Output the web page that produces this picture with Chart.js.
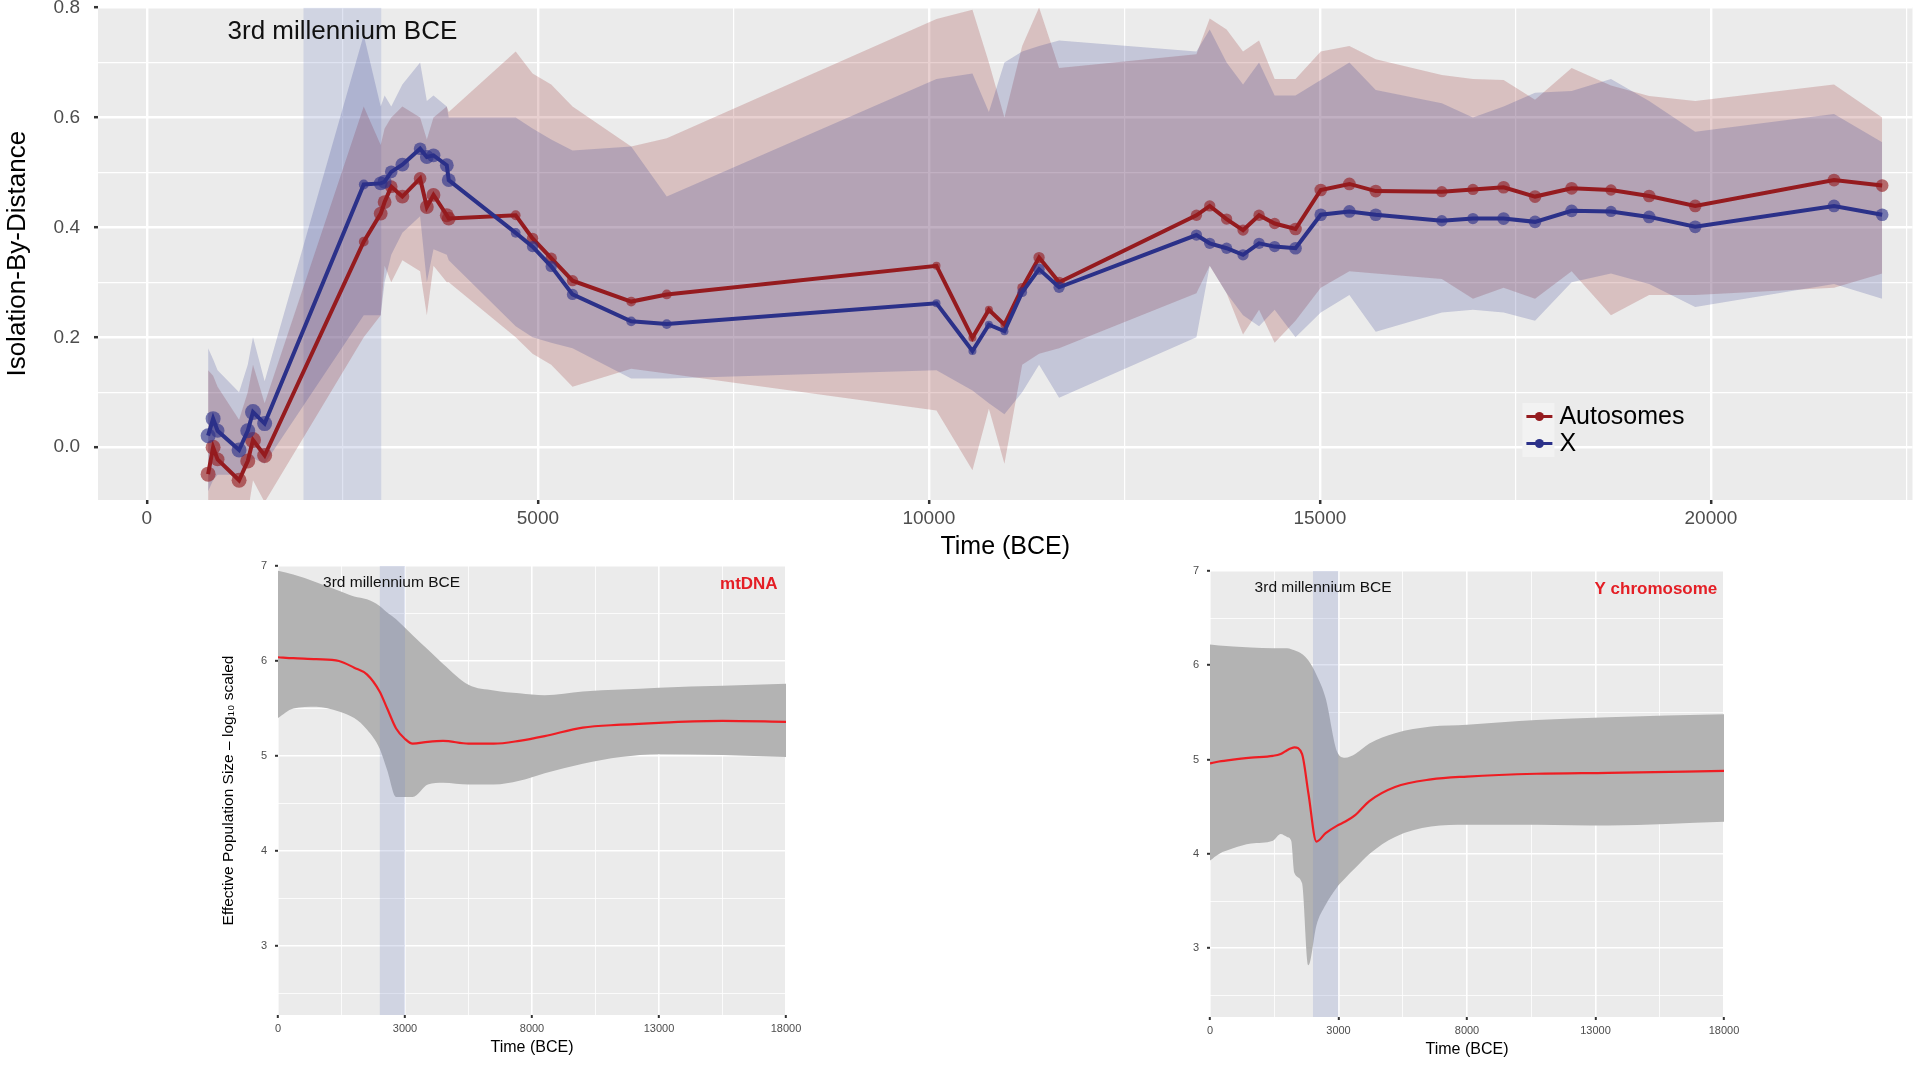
<!DOCTYPE html>
<html>
<head>
<meta charset="utf-8">
<script src="https://cdn.jsdelivr.net/npm/chart.js@4.4.1/dist/chart.umd.min.js"></script>
<style>
  body { margin: 0; background: #fff; width: 1920px; height: 1080px; position: relative; overflow: hidden; }
  canvas { position: absolute; }
</style>
</head>
<body>
<canvas id="ibd" width="1920" height="570" style="left:0;top:0"></canvas>
<canvas id="mtdna" width="650" height="525" style="left:180px;top:555px"></canvas>
<canvas id="ychr" width="600" height="525" style="left:1160px;top:555px"></canvas>
<script>
// ---- isolation by distance (top panel), time in years BCE ----
const ibdTime = [783, 847, 904, 1179, 1290, 1357, 1506,
  2773, 2990, 3040, 3125, 3267, 3494, 3580, 3665, 3835, 3860,
  4716, 4932, 5170, 5443, 6193, 6648,
  10097, 10557, 10767, 10966, 11193, 11409, 11665,
  13421, 13591, 13807, 14017, 14222, 14421, 14688,
  15011, 15377, 15714, 16559, 16957, 17349, 17751, 18219, 18722, 19210, 19799, 21574, 22190];
const autosomeIbd = [-0.049, 0.000, -0.022, -0.060, -0.025, 0.013, -0.015,
  0.374, 0.425, 0.446, 0.474, 0.456, 0.489, 0.437, 0.459, 0.422, 0.416,
  0.422, 0.380, 0.344, 0.303, 0.265, 0.278,
  0.330, 0.199, 0.250, 0.223, 0.290, 0.345, 0.300,
  0.422, 0.439, 0.415, 0.395, 0.422, 0.407, 0.397,
  0.468, 0.479, 0.466, 0.465, 0.469, 0.473, 0.456, 0.471, 0.468, 0.457, 0.439, 0.486, 0.476];
const autosomeHigh = [0.14, 0.13, 0.11, 0.05, 0.10, 0.15, 0.08,
  0.62, 0.55, 0.58, 0.60, 0.62, 0.60, 0.56, 0.60, 0.62, 0.61,
  0.72, 0.68, 0.66, 0.62, 0.547, 0.562,
  0.779, 0.796, 0.70, 0.60, 0.73, 0.80, 0.69,
  0.715, 0.78, 0.76, 0.72, 0.74, 0.67, 0.67,
  0.72, 0.73, 0.706, 0.677, 0.67, 0.668, 0.632, 0.69, 0.658, 0.639, 0.63, 0.66, 0.60];
const autosomeLow = [-0.13, -0.10, -0.12, -0.14, -0.12, -0.06, -0.10,
  0.20, 0.24, 0.33, 0.30, 0.34, 0.32, 0.24, 0.33, 0.30, 0.30,
  0.20, 0.17, 0.15, 0.11, 0.143, 0.134,
  0.067, -0.042, 0.07, -0.03, 0.15, 0.17, 0.18,
  0.28, 0.33, 0.28, 0.205, 0.25, 0.19, 0.23,
  0.29, 0.32, 0.316, 0.306, 0.27, 0.29, 0.27, 0.32, 0.24, 0.277, 0.277, 0.29, 0.316];
const xIbd = [0.021, 0.052, 0.030, -0.005, 0.030, 0.064, 0.043,
  0.478, 0.480, 0.483, 0.501, 0.514, 0.543, 0.528, 0.531, 0.513, 0.486,
  0.390, 0.365, 0.329, 0.278, 0.229, 0.224,
  0.262, 0.175, 0.223, 0.211, 0.282, 0.324, 0.291,
  0.386, 0.371, 0.362, 0.350, 0.371, 0.365, 0.362,
  0.423, 0.429, 0.423, 0.412, 0.416, 0.416, 0.410, 0.430, 0.429, 0.419, 0.401, 0.439, 0.423];
const xHigh = [0.18, 0.16, 0.14, 0.10, 0.15, 0.20, 0.12,
  0.75, 0.62, 0.64, 0.62, 0.66, 0.70, 0.63, 0.64, 0.62, 0.60,
  0.60, 0.58, 0.56, 0.54, 0.547, 0.456,
  0.67, 0.68, 0.61, 0.70, 0.72, 0.73, 0.74,
  0.72, 0.76, 0.70, 0.66, 0.70, 0.64, 0.64,
  0.668, 0.70, 0.65, 0.626, 0.60, 0.62, 0.645, 0.648, 0.67, 0.63, 0.574, 0.606, 0.555];
const xLow = [-0.08, -0.06, -0.05, -0.05, -0.03, -0.02, -0.03,
  0.24, 0.24, 0.30, 0.35, 0.39, 0.42, 0.30, 0.36, 0.35, 0.34,
  0.22, 0.20, 0.19, 0.18, 0.125, 0.125,
  0.14, 0.103, 0.08, 0.06, 0.10, 0.15, 0.09,
  0.20, 0.33, 0.28, 0.24, 0.22, 0.25, 0.20,
  0.245, 0.277, 0.21, 0.245, 0.25, 0.245, 0.23, 0.30, 0.316, 0.297, 0.255, 0.297, 0.27];
// relative sample weight (point size)
const sampleSize = [3.5, 3.5, 3, 3.5, 3.5, 4, 3.5,
  1.5, 3, 3, 2.5, 3, 2.5, 3, 3, 3, 3,
  1.5, 2, 2, 2, 1.5, 1.5,
  1, 1, 1, 1, 1.5, 2, 2,
  2, 2, 2, 2, 2, 2, 2.5,
  2.5, 2.5, 2.5, 2, 2, 2.5, 2.5, 2.5, 2, 2.5, 2.5, 2.5, 2.5];
const seriesNames = ['Autosomes', 'X'];
const millennium = [2000, 3000];
const ibdXTicks = [0, 5000, 10000, 15000, 20000];
const ibdXLabels = ['0', '5000', '10000', '15000', '20000'];
const ibdYTicks = [0, 0.2, 0.4, 0.6, 0.8];
const ibdYLabels = ['0.0', '0.2', '0.4', '0.6', '0.8'];

// ---- skyline plots, axis in years before present, labelled BCE ----
const popXTicks = [0, 5000, 10000, 15000, 20000];
const popXLabels = ['0', '3000', '8000', '13000', '18000'];
const popYTicks = [3, 4, 5, 6, 7];
const popYLabels = ['3', '4', '5', '6', '7'];
const popBand = [4000, 5000];

const mtTime = [0, 600, 1500, 2400, 3000, 3500, 4000, 4300, 4650, 5000, 5300, 5900, 6500, 7500, 8500, 9500, 10500, 12000, 13500, 15000, 17500, 20000];
const mtMedian = [6.04, 6.03, 6.02, 6.00, 5.93, 5.86, 5.68, 5.50, 5.29, 5.18, 5.13, 5.15, 5.16, 5.13, 5.13, 5.16, 5.21, 5.30, 5.33, 5.35, 5.37, 5.36];
const mtUpper = [6.95, 6.91, 6.83, 6.74, 6.68, 6.65, 6.58, 6.51, 6.44, 6.35, 6.27, 6.12, 5.97, 5.75, 5.69, 5.66, 5.64, 5.68, 5.70, 5.72, 5.74, 5.76];
const mtLower = [5.40, 5.50, 5.52, 5.47, 5.40, 5.28, 5.08, 4.85, 4.57, 4.57, 4.57, 4.70, 4.72, 4.70, 4.70, 4.74, 4.82, 4.92, 4.99, 5.02, 5.01, 4.99];

const yTime = [0, 350, 900, 1600, 2450, 2750, 3000, 3160, 3280, 3580, 3830, 4140, 4500, 4950, 5250, 5650, 6200, 7200, 8600, 10000, 12700, 15500, 20000];
const yMedian = [4.96, 4.98, 5.00, 5.02, 5.04, 5.06, 5.10, 5.12, 5.13, 5.06, 4.64, 4.13, 4.22, 4.30, 4.34, 4.41, 4.56, 4.71, 4.79, 4.82, 4.85, 4.86, 4.88];
const yUpper = [6.22, 6.21, 6.20, 6.19, 6.18, 6.18, 6.18, 6.17, 6.16, 6.12, 6.05, 5.90, 5.65, 5.08, 5.02, 5.06, 5.17, 5.28, 5.35, 5.37, 5.42, 5.45, 5.48];
const yLower = [3.93, 4.00, 4.06, 4.11, 4.14, 4.21, 4.18, 4.14, 3.80, 3.69, 2.82, 3.24, 3.46, 3.65, 3.74, 3.85, 4.00, 4.18, 4.29, 4.31, 4.31, 4.30, 4.34];

const FONT = "'Liberation Sans', Arial, Helvetica, sans-serif";
Chart.defaults.font.family = FONT;

function pts(xs, ys) {
    return xs.map((x, i) => ({ x: x, y: ys[i] }));
}

// majors plus half-way minor ticks inside [min, max]
function tickList(major, min, max) {
    const step = (major[1] - major[0]) / 2;
    const out = [];
    for (let v = major[0] - step; v <= major[major.length - 1] + step + 1e-9; v += step) {
        const r = Math.round(v * 1e6) / 1e6;
        if (r >= min - 1e-9 && r <= max + 1e-9) out.push(r);
    }
    return out;
}
function majorIndex(major, v) {
    return major.findIndex(m => Math.abs(m - v) < 1e-6);
}

function axis(o) {
    return {
        type: 'linear',
        min: o.min,
        max: o.max,
        afterBuildTicks: s => { s.ticks = tickList(o.major, o.min, o.max).map(v => ({ value: v })); },
        afterFit: s => {
            if (o.horizontal) s.height = o.size; else s.width = o.size;
            s.paddingLeft = s.paddingRight = s.paddingTop = s.paddingBottom = 0;
        },
        ticks: {
            autoSkip: false,
            maxRotation: 0,
            font: { size: o.tickSize },
            color: '#4D4D4D',
            padding: o.tickPad,
            callback: v => { const i = majorIndex(o.major, v); return i < 0 ? '' : o.labels[i]; }
        },
        grid: {
            color: '#FFFFFF',
            lineWidth: c => (c.tick && majorIndex(o.major, c.tick.value) >= 0) ? o.gridW : o.gridW / 2,
            drawTicks: true,
            tickLength: o.tickLen,
            tickWidth: o.tickW,
            tickColor: c => (c.tick && majorIndex(o.major, c.tick.value) >= 0) ? '#333333' : 'rgba(0,0,0,0)'
        },
        border: { display: false },
        title: {
            display: !!o.title,
            text: o.title,
            color: '#000',
            font: { size: o.titleSize },
            padding: o.titlePad
        }
    };
}

const panelBg = {
    id: 'panelBg',
    beforeDraw(chart) {
        const a = chart.chartArea, ctx = chart.ctx;
        ctx.save();
        ctx.fillStyle = '#EBEBEB';
        ctx.fillRect(a.left, a.top, a.right - a.left, a.bottom - a.top);
        ctx.restore();
    }
};

// text annotations placed in data coordinates
function notes(list) {
    return {
        id: 'notes',
        afterDraw(chart) {
            const ctx = chart.ctx, xs = chart.scales.x, ys = chart.scales.y;
            ctx.save();
            list.forEach(n => {
                ctx.font = n.font;
                ctx.fillStyle = n.color;
                ctx.textAlign = n.align;
                ctx.textBaseline = 'middle';
                ctx.fillText(n.text, xs.getPixelForValue(n.x), ys.getPixelForValue(n.y));
            });
            ctx.restore();
        }
    };
}

const RED = '#951B1F', BLUE = '#2B3189';
const BAND = 'rgba(120,140,195,0.24)';
const hidden = { borderColor: 'rgba(0,0,0,0)', borderWidth: 0, pointRadius: 0 };

// legend drawn inside the panel like ggplot's
const ibdLegend = {
    id: 'ibdLegend',
    afterDraw(chart) {
        const ctx = chart.ctx, a = chart.chartArea;
        const left = a.left + 0.785 * (a.right - a.left);
        const top = a.top + 0.803 * (a.bottom - a.top);
        const colors = [RED, BLUE];
        ctx.save();
        seriesNames.forEach((name, i) => {
            const y = top + i * 27;
            ctx.fillStyle = '#F2F2F2';
            ctx.fillRect(left, y, 32, 27);
            const cy = y + 13.5;
            ctx.strokeStyle = colors[i];
            ctx.lineWidth = 3;
            ctx.beginPath(); ctx.moveTo(left + 4, cy); ctx.lineTo(left + 30, cy); ctx.stroke();
            ctx.fillStyle = colors[i];
            ctx.beginPath(); ctx.arc(left + 17, cy, 4.5, 0, Math.PI * 2); ctx.fill();
            ctx.fillStyle = '#000';
            ctx.font = '25px ' + FONT;
            ctx.textAlign = 'left';
            ctx.textBaseline = 'middle';
            ctx.fillText(name, left + 37, cy + 1);
        });
        ctx.restore();
    }
};

new Chart(document.getElementById('ibd'), {
    type: 'line',
    data: {
        datasets: [
            Object.assign({ data: pts(millennium, millennium.map(() => ibdYTicks[4])), fill: 'start', backgroundColor: BAND, order: 10 }, hidden),
            Object.assign({ data: pts(ibdTime, autosomeHigh), fill: '+1', backgroundColor: 'rgba(150,40,40,0.22)', order: 9 }, hidden),
            Object.assign({ data: pts(ibdTime, autosomeLow), fill: false, order: 9 }, hidden),
            Object.assign({ data: pts(ibdTime, xHigh), fill: '+1', backgroundColor: 'rgba(40,50,140,0.2)', order: 8 }, hidden),
            Object.assign({ data: pts(ibdTime, xLow), fill: false, order: 8 }, hidden),
            {
                label: seriesNames[0], data: pts(ibdTime, autosomeIbd), fill: false, order: 2,
                borderColor: RED, borderWidth: 4,
                pointRadius: c => 4 * Math.sqrt(sampleSize[c.dataIndex]),
                pointBackgroundColor: 'rgba(149,27,31,0.62)', pointBorderWidth: 0
            },
            {
                label: seriesNames[1], data: pts(ibdTime, xIbd), fill: false, order: 1,
                borderColor: BLUE, borderWidth: 4,
                pointRadius: c => 4 * Math.sqrt(sampleSize[c.dataIndex]),
                pointBackgroundColor: 'rgba(43,49,137,0.62)', pointBorderWidth: 0
            }
        ]
    },
    options: {
        responsive: false,
        animation: false,
        events: [],
        layout: { padding: { left: 0, right: 4, top: 5, bottom: 0 } },
        scales: {
            x: axis({ horizontal: true, min: -625, max: 22578, major: ibdXTicks, labels: ibdXLabels, size: 70,
                tickSize: 19, tickPad: 3, tickLen: 4, tickW: 2.5, gridW: 2.4,
                title: 'Time (BCE)', titleSize: 25, titlePad: { top: 0, bottom: 8 } }),
            y: axis({ min: -0.096, max: 0.8, major: ibdYTicks, labels: ibdYLabels, size: 98,
                tickSize: 19, tickPad: 14, tickLen: 4, tickW: 2.5, gridW: 2.4,
                title: 'Isolation-By-Distance', titleSize: 26, titlePad: { top: 2, bottom: 0 } })
        },
        plugins: { legend: { display: false }, tooltip: { enabled: false } }
    },
    plugins: [panelBg, ibdLegend, notes([
        { text: '3rd millennium BCE', x: 2500, y: 0.755, font: '26px ' + FONT, color: '#111', align: 'center' }
    ])]
});

function skyline(id, time, med, up, low, tag, opts) {
    new Chart(document.getElementById(id), {
        type: 'line',
        data: {
            datasets: [
                Object.assign({ data: pts(time, up), fill: '+1', backgroundColor: '#B3B3B3', cubicInterpolationMode: 'monotone', order: 5 }, hidden),
                Object.assign({ data: pts(time, low), fill: false, cubicInterpolationMode: 'monotone', order: 5 }, hidden),
                Object.assign({ data: pts(popBand, popBand.map(() => popYTicks[4])), fill: 'start', backgroundColor: BAND, order: 3 }, hidden),
                {
                    label: tag, data: pts(time, med), fill: false, order: 1,
                    borderColor: '#EE1D23', borderWidth: 2.2, pointRadius: 0,
                    cubicInterpolationMode: 'monotone'
                }
            ]
        },
        options: {
            responsive: false,
            animation: false,
            events: [],
            layout: { padding: { left: 0, right: opts.padRight, top: opts.padTop, bottom: 0 } },
            scales: {
                x: axis({ horizontal: true, min: 0, max: 20000, major: popXTicks, labels: popXLabels, size: opts.xSize,
                    tickSize: 11, tickPad: 4, tickLen: 3, tickW: 2, gridW: 1.6,
                    title: 'Time (BCE)', titleSize: 16, titlePad: { top: 0, bottom: opts.titleBottom } }),
                y: axis({ min: opts.yMin, max: 7, major: popYTicks, labels: popYLabels, size: opts.ySize,
                    tickSize: 11, tickPad: 8, tickLen: 3, tickW: 2, gridW: 1.6,
                    title: opts.yTitle, titleSize: 15.5, titlePad: { top: 39, bottom: 0 } })
            },
            plugins: { legend: { display: false }, tooltip: { enabled: false } }
        },
        plugins: [panelBg, notes([
            { text: '3rd millennium BCE', x: opts.bandTextX, y: 6.82, font: '15.5px ' + FONT, color: '#111', align: 'center' },
            { text: tag, x: opts.tagX, y: 6.81, font: 'bold 17px ' + FONT, color: '#E41E25', align: 'right' }
        ])]
    });
}

skyline('mtdna', mtTime, mtMedian, mtUpper, mtLower, 'mtDNA', {
    padRight: 44, padTop: 11, xSize: 65, ySize: 98, yMin: 2.275, titleBottom: 23,
    yTitle: 'Effective Population Size \u2013 log\u2081\u2080 scaled', bandTextX: 4470, tagX: 19670
});
skyline('ychr', yTime, yMedian, yUpper, yLower, 'Y chromosome', {
    padRight: 36, padTop: 16, xSize: 63, ySize: 50, yMin: 2.27, titleBottom: 21,
    yTitle: '', bandTextX: 4400, tagX: 19740
});
</script>
</body>
</html>
